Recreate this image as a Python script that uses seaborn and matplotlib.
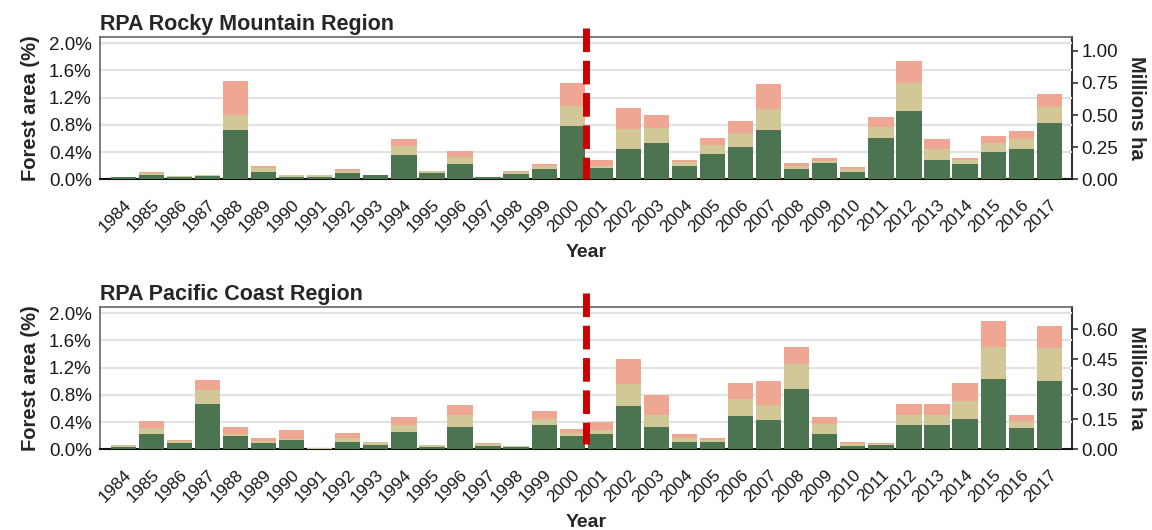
import numpy as np
import pandas as pd
import matplotlib
matplotlib.use("Agg")
import matplotlib.pyplot as plt
import seaborn as sns

# ----- data (percent of forest area burned, by severity) -----
years = list(range(1984, 2018))

rocky_high = [0.03, 0.07, 0.04, 0.05, 0.72, 0.11, 0.04, 0.04, 0.09, 0.06,
              0.35, 0.09, 0.23, 0.03, 0.08, 0.15, 0.78, 0.16, 0.44, 0.54,
              0.20, 0.37, 0.48, 0.72, 0.15, 0.24, 0.11, 0.60, 1.00, 0.28,
              0.23, 0.40, 0.45, 0.82]
rocky_mod = [0.01, 0.02, 0.01, 0.02, 0.22, 0.05, 0.03, 0.02, 0.03, 0.01,
             0.14, 0.03, 0.10, 0.01, 0.02, 0.04, 0.29, 0.04, 0.30, 0.22,
             0.05, 0.13, 0.20, 0.31, 0.05, 0.03, 0.04, 0.17, 0.42, 0.17,
             0.05, 0.14, 0.14, 0.24]
rocky_low = [0.00, 0.01, 0.00, 0.00, 0.51, 0.03, 0.00, 0.00, 0.03, 0.00,
             0.10, 0.00, 0.09, 0.00, 0.02, 0.03, 0.35, 0.08, 0.31, 0.19,
             0.03, 0.11, 0.17, 0.37, 0.04, 0.04, 0.03, 0.14, 0.32, 0.14,
             0.03, 0.10, 0.12, 0.19]

pacific_high = [0.04, 0.23, 0.09, 0.66, 0.19, 0.09, 0.13, 0.01, 0.10, 0.07,
                0.25, 0.04, 0.33, 0.05, 0.04, 0.35, 0.19, 0.23, 0.64, 0.32,
                0.11, 0.11, 0.49, 0.43, 0.89, 0.23, 0.05, 0.06, 0.35, 0.35,
                0.44, 1.03, 0.31, 1.00]
pacific_mod = [0.02, 0.08, 0.03, 0.21, 0.04, 0.03, 0.02, 0.005, 0.06, 0.03,
               0.10, 0.03, 0.17, 0.03, 0.01, 0.10, 0.05, 0.06, 0.32, 0.18,
               0.05, 0.03, 0.25, 0.22, 0.36, 0.14, 0.03, 0.02, 0.15, 0.15,
               0.27, 0.47, 0.11, 0.49]
pacific_low = [0.01, 0.10, 0.01, 0.15, 0.09, 0.04, 0.13, 0.01, 0.08, 0.01,
               0.13, 0.00, 0.15, 0.01, 0.00, 0.11, 0.06, 0.11, 0.36, 0.30,
               0.07, 0.02, 0.23, 0.35, 0.25, 0.11, 0.02, 0.01, 0.17, 0.17,
               0.26, 0.38, 0.09, 0.32]

# total forest area of each region (million ha), used for the right axis
rocky_area = 53.0
pacific_area = 34.0

left_ticks = [0.0, 0.4, 0.8, 1.2, 1.6, 2.0]
rocky_right_ticks = [0.0, 0.25, 0.5, 0.75, 1.0]
pacific_right_ticks = [0.0, 0.15, 0.30, 0.45, 0.60]

c_high = "#4c7450"
c_mod = "#d2c897"
c_low = "#efa793"

sns.set_theme(style="white")
plt.rcParams['font.family'] = ['Liberation Sans', 'DejaVu Sans']

fig = plt.figure(figsize=(11.52, 5.30), dpi=100)
ax_top = fig.add_axes([0.0868, 0.6617, 0.84375, 0.2685])
ax_bot = fig.add_axes([0.0868, 0.1523, 0.84375, 0.2685])


def draw_panel(ax, title, high, mod, low, area, right_ticks, dash_lims):
    df = pd.DataFrame({"year": [str(y) for y in years],
                       "high": high, "mod": mod, "low": low})
    df["mid"] = df["high"] + df["mod"]
    df["total"] = df["mid"] + df["low"]
    # stacked bars: draw totals first, then overlay lower stacks
    for col, colour, z in [("total", c_low, 2), ("mid", c_mod, 3),
                           ("high", c_high, 4)]:
        sns.barplot(data=df, x="year", y=col, color=colour, width=0.9,
                    saturation=1, linewidth=0, ax=ax, zorder=z)

    ax.set_xlim(-0.83, len(years) - 0.19)
    ax.set_ylim(0, 2.09)
    ax.set_yticks(left_ticks)
    ax.set_yticklabels([f"{t:.1f}%" for t in left_ticks])
    ax.yaxis.grid(True, color="#e2e2e2", linewidth=1.5, zorder=0)
    ax.set_axisbelow(True)

    ax.set_xticks(range(len(years)))
    ax.set_xticklabels([str(y) for y in years], rotation=45, ha="right",
                       va="top", rotation_mode="anchor", fontsize=12.5,
                       color="#1a1a1a")
    ax.tick_params(axis="x", length=5, width=1.2, color="#222222", pad=8)
    ax.tick_params(axis="y", length=4, width=1.2, color="#555555",
                   labelsize=13.5, labelcolor="#1a1a1a", pad=2)

    for side in ["top", "left"]:
        ax.spines[side].set_color("#666666")
        ax.spines[side].set_linewidth(1.2)
    ax.spines["right"].set_visible(False)
    ax.spines["bottom"].set_color("#111111")
    ax.spines["bottom"].set_linewidth(1.5)

    ax.set_xlabel("Year", fontsize=14, fontweight="bold", labelpad=6)
    ax.set_ylabel("Forest area (%)", fontsize=14.5, fontweight="bold",
                  labelpad=6)
    ax.set_title(title, loc="left", fontsize=15.5, fontweight="bold", pad=5)

    sec = ax.secondary_yaxis("right",
                             functions=(lambda p: p * area / 100.0,
                                        lambda m: m * 100.0 / area))
    sec.set_yticks(right_ticks)
    sec.set_yticklabels([f"{t:.2f}" for t in right_ticks])
    sec.tick_params(axis="y", length=4, width=1.2, color="#333333",
                    labelsize=13.5, labelcolor="#1a1a1a", pad=3)
    sec.spines["right"].set_color("#333333")
    sec.spines["right"].set_linewidth(1.5)
    sec.set_ylabel("Millions ha", fontsize=14.5, fontweight="bold",
                   rotation=270, labelpad=20)

    # red dashed divider between 2000 and 2001
    ax.plot([16.5, 16.5], dash_lims, transform=ax.get_xaxis_transform(),
            color="#cc0000", linewidth=5, dashes=(3.4, 1.25), clip_on=False,
            zorder=6, solid_capstyle="butt", dash_capstyle="butt")


draw_panel(ax_top, "RPA Rocky Mountain Region", rocky_high, rocky_mod,
           rocky_low, rocky_area, rocky_right_ticks, [1.063, 0.0])
draw_panel(ax_bot, "RPA Pacific Coast Region", pacific_high, pacific_mod,
           pacific_low, pacific_area, pacific_right_ticks, [1.098, 0.037])

fig.savefig("out.png", dpi=100)
